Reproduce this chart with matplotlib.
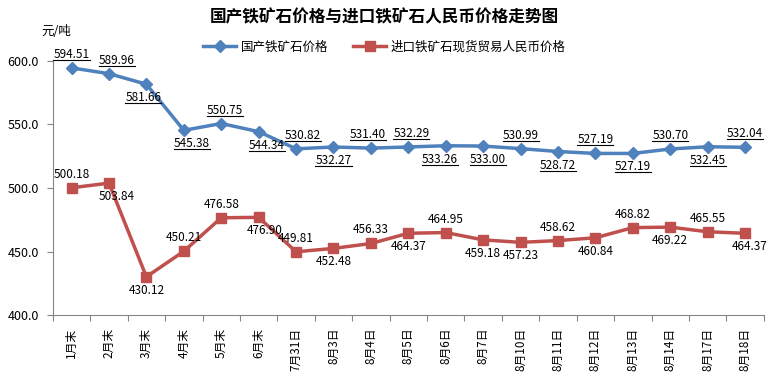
import matplotlib.pyplot as plt
import numpy as np
from matplotlib.lines import Line2D

plt.rcParams['font.family'] = ['Noto Sans CJK SC', 'DejaVu Sans']

dates = ['1月末', '2月末', '3月末', '4月末', '5月末', '6月末', '7月31日',
         '8月3日', '8月4日', '8月5日', '8月6日', '8月7日', '8月10日', '8月11日',
         '8月12日', '8月13日', '8月14日', '8月17日', '8月18日']
domestic = [594.51, 589.96, 581.66, 545.38, 550.75, 544.34, 530.82, 532.27,
            531.40, 532.29, 533.26, 533.00, 530.99, 528.72, 527.19, 527.19,
            530.70, 532.45, 532.04]
imported = [500.18, 503.84, 430.12, 450.21, 476.58, 476.90, 449.81, 452.48,
            456.33, 464.37, 464.95, 459.18, 457.23, 458.62, 460.84, 468.82,
            469.22, 465.55, 464.37]

# label above (1) or below (-1) the point
dom_side = [1, 1, -1, -1, 1, -1, 1, -1, 1, 1, -1, -1, 1, -1, 1, -1, 1, -1, 1]
imp_side = [1, -1, -1, 1, 1, -1, 1, -1, 1, -1, 1, -1, -1, 1, -1, 1, -1, 1, -1]
# small sideways nudges of the labels, in pixels
dom_dx = [0, 8, -3, 8, 4, 8, 7, 0, -3, 3, -6, 5, 0, 0, 0, 0, 0, 0, 0]
imp_dx = [0, 8, 0, 0, 0, 6, 0, 0, 0, 0, 0, 0, 0, 0, 0, 0, 0, 0, 5]

blue = '#4F81BD'
red = '#C0504D'

fig = plt.figure(figsize=(7.77, 3.76), dpi=100)
ax = fig.add_axes([0.068, 0.162, 0.915, 0.676])
x = np.arange(len(dates))

ax.plot(x, domestic, color=blue, lw=2.5, marker='D', ms=6, label='国产铁矿石价格')
ax.plot(x, imported, color=red, lw=2.5, marker='s', ms=7.5,
        label='进口铁矿石现货贸易人民币价格')

ax.set_xlim(-0.5, len(dates) - 0.5)
ax.set_ylim(400, 600)
ax.set_yticks([400, 450, 500, 550, 600])
ax.set_yticklabels([f'{v:.1f}' for v in [400, 450, 500, 550, 600]], fontsize=9)
ax.set_xticks(np.arange(-0.5, len(dates), 1))
ax.set_xticklabels([])
ax.set_xticks(x, minor=True)
ax.set_xticklabels(dates, minor=True, rotation=90, fontsize=8.5)
ax.tick_params(axis='x', which='major', length=4, color='#868686')
ax.tick_params(axis='x', which='minor', length=0, pad=9)
ax.tick_params(axis='y', length=4, color='#868686', pad=6)
for s in ['top', 'right']:
    ax.spines[s].set_visible(False)
for s in ['left', 'bottom']:
    ax.spines[s].set_color('#868686')

dom_texts = []
for i, v in enumerate(domestic):
    t = ax.annotate(f'{v:.2f}', (i, v), xytext=(dom_dx[i], 7 * dom_side[i]),
                    textcoords='offset pixels', ha='center',
                    va='bottom' if dom_side[i] > 0 else 'top', fontsize=8.5)
    dom_texts.append(t)
for i, v in enumerate(imported):
    ax.annotate(f'{v:.2f}', (i, v), xytext=(imp_dx[i], 7 * imp_side[i]),
                textcoords='offset pixels', ha='center',
                va='bottom' if imp_side[i] > 0 else 'top', fontsize=8.5)

fig.text(0.495, 0.953, '国产铁矿石价格与进口铁矿石人民币价格走势图',
         ha='center', va='center', fontsize=12, fontweight='bold')
fig.text(0.053, 0.915, '元/吨', ha='left', va='center', fontsize=9)
fig.legend(loc='center', bbox_to_anchor=(0.495, 0.875), ncol=2, frameon=False,
           fontsize=9, handlelength=2.6, columnspacing=2.0, handletextpad=0.4)

# underline the domestic price labels
fig.canvas.draw()
r = fig.canvas.get_renderer()
for t in dom_texts:
    bb = t.get_window_extent(r)
    x0, x1 = bb.x0 / fig.bbox.width, bb.x1 / fig.bbox.width
    y0 = (bb.y0 + 1) / fig.bbox.height
    fig.add_artist(Line2D([x0, x1], [y0, y0], color='black', lw=0.8))

fig.savefig('out.png', dpi=100)
